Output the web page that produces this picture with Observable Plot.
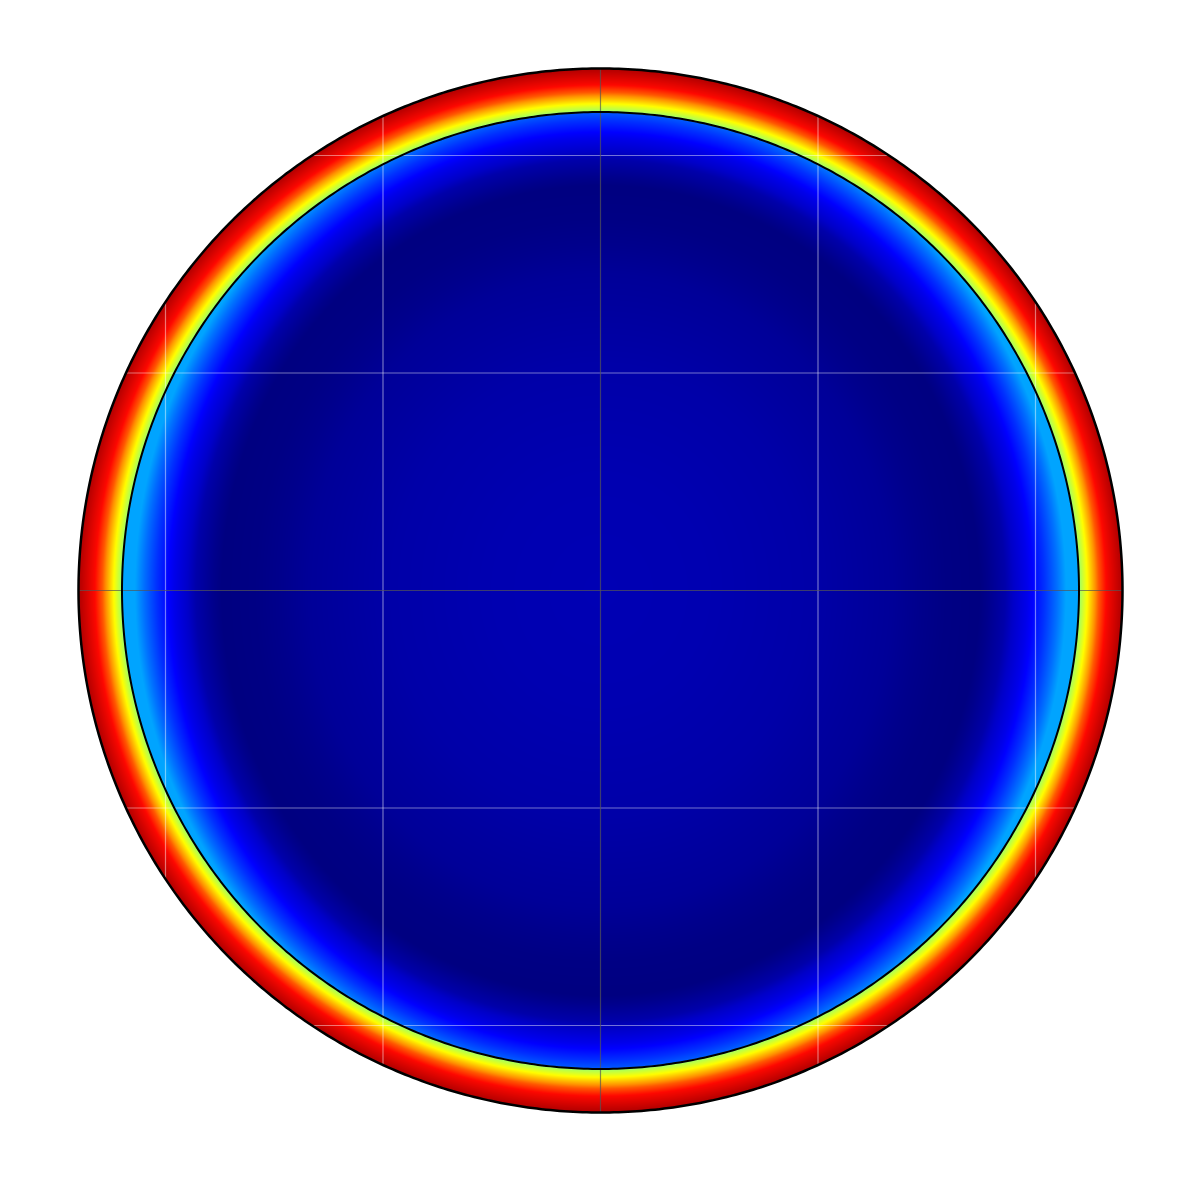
<!DOCTYPE html>
<html>
<head>
<meta charset="utf-8">
<script src="https://cdn.jsdelivr.net/npm/d3@7"></script>
<script src="https://cdn.jsdelivr.net/npm/@observablehq/plot@0.6"></script>
<style>
  html, body { margin: 0; padding: 0; background: #fff; }
  #chart { width: 1200px; height: 1200px; }
</style>
</head>
<body>
<div id="chart"></div>
<script>
// ---- Geometry (model units) ----
const outerRadius = 2.4;   // outer boundary of the disk
const innerRadius = 2.2;   // inner boundary (black circle)
const gridTicks = [-2, -1, 0, 1, 2];
const gridReach = 2.4;

// ---- Colour palette (value -> colour) ----
const paletteStops  = [0, 0.06, 0.12, 0.2, 0.3, 0.4, 0.6, 0.7, 0.8, 0.9, 1];
const paletteColors = ["#00005e", "#00008c", "#0000c8", "#0000ff", "#0050ff", "#00a4ff",
                       "#9cff6a", "#ffff00", "#ff9000", "#ff0800", "#b00000"];

// ---- Radial profile inside the inner circle ----
const innerR      = [0,    0.5,  1.0,  1.4,  1.65, 1.8,  1.92, 2.02, 2.1,  2.16, 2.2];
const innerValues = [0.1,  0.097,0.088,0.072,0.05, 0.045,0.09, 0.17, 0.26, 0.34, 0.4];

// ---- Radial profile in the outer ring ----
const ringR      = [2.2,  2.23, 2.26, 2.29, 2.33, 2.4];
const ringValues = [0.6,  0.68, 0.76, 0.84, 0.91, 1.0];

// Side/top asymmetry of the blue band
const sideShift = 0.06;

const innerProfile = d3.scaleLinear(innerR, innerValues).clamp(true);
const ringProfile  = d3.scaleLinear(ringR, ringValues).clamp(true);

function field(x, y) {
  const r = Math.hypot(x, y);
  if (r > outerRadius) return NaN;
  if (r >= innerRadius) return ringProfile(r);
  const c2 = r > 0 ? (x * x - y * y) / (r * r) : 0; // cos(2θ)
  const re = Math.min(innerRadius, r + sideShift * c2 * Math.min(1, r / 1.5));
  return innerProfile(re);
}

const unit = 217.5; // px per model unit
const xDomain = [-600 / unit, 600 / unit];
const yDomain = [-610 / unit, 590 / unit];

const angles = d3.range(0, 2 * Math.PI + 0.001, Math.PI / 360);
const circle = (R) => angles.map(a => ({x: R * Math.cos(a), y: R * Math.sin(a)}));
const ext = t => Math.sqrt(gridReach * gridReach - t * t);

const centerTicks = gridTicks.filter(t => t === 0);
const otherTicks  = gridTicks.filter(t => t !== 0);

const chart = Plot.plot({
  width: 1200,
  height: 1200,
  margin: 0,
  style: {background: "#fff"},
  x: {domain: xDomain, axis: null},
  y: {domain: yDomain, axis: null},
  color: {type: "linear", domain: paletteStops, range: paletteColors, interpolate: "rgb"},
  marks: [
    Plot.raster({
      fill: field,
      x1: -outerRadius - 0.02, x2: outerRadius + 0.02,
      y1: -outerRadius - 0.02, y2: outerRadius + 0.02,
      pixelSize: 1,
      imageRendering: "auto"
    }),
    Plot.ruleX(otherTicks, {x: d => d, y1: d => -ext(d), y2: d => ext(d), stroke: "#ffffff", strokeOpacity: 0.45, strokeWidth: 1.2}),
    Plot.ruleY(otherTicks, {y: d => d, x1: d => -ext(d), x2: d => ext(d), stroke: "#ffffff", strokeOpacity: 0.45, strokeWidth: 1.2}),
    Plot.ruleX(centerTicks, {x: d => d, y1: d => -ext(d), y2: d => ext(d), stroke: "#555555", strokeOpacity: 0.7, strokeWidth: 1.2}),
    Plot.ruleY(centerTicks, {y: d => d, x1: d => -ext(d), x2: d => ext(d), stroke: "#555555", strokeOpacity: 0.7, strokeWidth: 1.2}),
    Plot.line(circle(innerRadius), {x: "x", y: "y", stroke: "#000", strokeWidth: 2}),
    Plot.line(circle(outerRadius), {x: "x", y: "y", stroke: "#000", strokeWidth: 2.5})
  ]
});

document.getElementById("chart").appendChild(chart);
</script>
</body>
</html>
